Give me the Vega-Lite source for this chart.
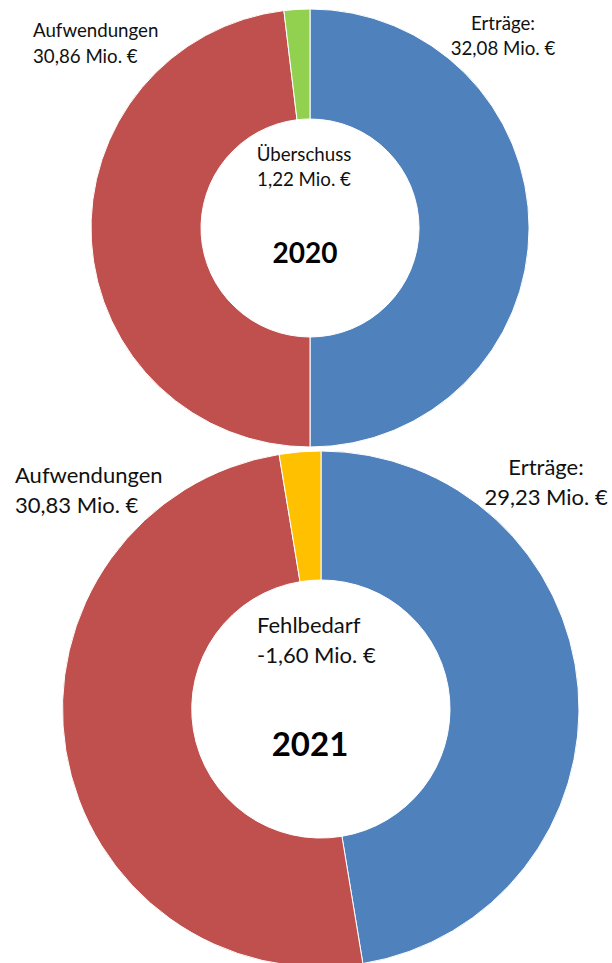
{
  "$schema": "https://vega.github.io/schema/vega-lite/v6.json",
  "padding": 0,
  "spacing": 0,
  "bounds": "flush",
  "background": "white",
  "config": {"view": {"stroke": null}, "font": "Lato", "text": {"font": "Lato", "color": "#111111"}},
  "datasets": {
    "slices": [
      {"year": 2020, "category": "Erträge", "value": 32.08, "rank": 1},
      {"year": 2020, "category": "Aufwendungen", "value": 30.86, "rank": 2},
      {"year": 2020, "category": "Überschuss", "value": 1.22, "rank": 3},
      {"year": 2021, "category": "Erträge", "value": 29.23, "rank": 1},
      {"year": 2021, "category": "Aufwendungen", "value": 30.83, "rank": 2},
      {"year": 2021, "category": "Fehlbedarf", "value": 1.60, "rank": 3}
    ],
    "labels": [
      {"id": "a20", "text": "Aufwendungen\n30,86 Mio. €"},
      {"id": "e20", "text": "Erträge:\n32,08 Mio. €"},
      {"id": "s20", "text": "Überschuss\n 1,22 Mio. €"},
      {"id": "y20", "text": "2020"},
      {"id": "a21", "text": "Aufwendungen\n30,83 Mio. €"},
      {"id": "e21", "text": "Erträge:\n29,23 Mio. €"},
      {"id": "f21", "text": "Fehlbedarf\n-1,60 Mio. €"},
      {"id": "y21", "text": "2021"}
    ]
  },
  "vconcat": [
    {
      "width": 612,
      "height": 456,
      "layer": [
        {
          "data": {"name": "slices"},
          "transform": [{"filter": "datum.year == 2020"}],
          "mark": {"type": "arc", "outerRadius": 219, "innerRadius": 109, "x": {"expr": "width/2 + 4"}, "stroke": "white", "strokeWidth": 1},
          "encoding": {
            "theta": {"field": "value", "type": "quantitative", "stack": true},
            "order": {"field": "rank", "type": "quantitative"},
            "color": {"field": "category", "type": "nominal", "legend": null,
              "scale": {"domain": ["Erträge", "Aufwendungen", "Überschuss", "Fehlbedarf"], "range": ["#4F81BD", "#C0504D", "#92D050", "#FFC000"]}}
          }
        },
        {
          "data": {"name": "labels"},
          "transform": [{"filter": "datum.id == 'a20'"}],
          "mark": {"type": "text", "x": 33, "y": 37, "align": "left", "baseline": "alphabetic", "fontSize": 18.7, "lineHeight": 26, "lineBreak": "\n"},
          "encoding": {"text": {"field": "text", "type": "nominal"}}
        },
        {
          "data": {"name": "labels"},
          "transform": [{"filter": "datum.id == 'e20'"}],
          "mark": {"type": "text", "x": 503, "y": 30, "align": "center", "baseline": "alphabetic", "fontSize": 18.7, "lineHeight": 25, "lineBreak": "\n"},
          "encoding": {"text": {"field": "text", "type": "nominal"}}
        },
        {
          "data": {"name": "labels"},
          "transform": [{"filter": "datum.id == 's20'"}],
          "mark": {"type": "text", "x": 304, "y": 161, "align": "center", "baseline": "alphabetic", "fontSize": 18.7, "lineHeight": 25, "lineBreak": "\n"},
          "encoding": {"text": {"field": "text", "type": "nominal"}}
        },
        {
          "data": {"name": "labels"},
          "transform": [{"filter": "datum.id == 'y20'"}],
          "mark": {"type": "text", "x": 305, "y": 263, "align": "center", "baseline": "alphabetic", "fontSize": 28, "fontWeight": "bold", "color": "#000000"},
          "encoding": {"text": {"field": "text", "type": "nominal"}}
        }
      ]
    },
    {
      "width": 612,
      "height": 506,
      "layer": [
        {
          "data": {"name": "slices"},
          "transform": [{"filter": "datum.year == 2021"}],
          "mark": {"type": "arc", "outerRadius": 258, "innerRadius": 129, "x": {"expr": "width/2 + 15"}, "stroke": "white", "strokeWidth": 1},
          "encoding": {
            "theta": {"field": "value", "type": "quantitative", "stack": true},
            "order": {"field": "rank", "type": "quantitative"},
            "color": {"field": "category", "type": "nominal", "legend": null,
              "scale": {"domain": ["Erträge", "Aufwendungen", "Überschuss", "Fehlbedarf"], "range": ["#4F81BD", "#C0504D", "#92D050", "#FFC000"]}}
          }
        },
        {
          "data": {"name": "labels"},
          "transform": [{"filter": "datum.id == 'a21'"}],
          "mark": {"type": "text", "x": 15, "y": 27, "align": "left", "baseline": "alphabetic", "fontSize": 22, "lineHeight": 30, "lineBreak": "\n"},
          "encoding": {"text": {"field": "text", "type": "nominal"}}
        },
        {
          "data": {"name": "labels"},
          "transform": [{"filter": "datum.id == 'e21'"}],
          "mark": {"type": "text", "x": 546, "y": 19, "align": "center", "baseline": "alphabetic", "fontSize": 22, "lineHeight": 30, "lineBreak": "\n"},
          "encoding": {"text": {"field": "text", "type": "nominal"}}
        },
        {
          "data": {"name": "labels"},
          "transform": [{"filter": "datum.id == 'f21'"}],
          "mark": {"type": "text", "x": 257, "y": 177, "align": "left", "baseline": "alphabetic", "fontSize": 22, "lineHeight": 30, "lineBreak": "\n"},
          "encoding": {"text": {"field": "text", "type": "nominal"}}
        },
        {
          "data": {"name": "labels"},
          "transform": [{"filter": "datum.id == 'y21'"}],
          "mark": {"type": "text", "x": 310, "y": 300, "align": "center", "baseline": "alphabetic", "fontSize": 33, "fontWeight": "bold", "color": "#000000"},
          "encoding": {"text": {"field": "text", "type": "nominal"}}
        }
      ]
    }
  ]
}
